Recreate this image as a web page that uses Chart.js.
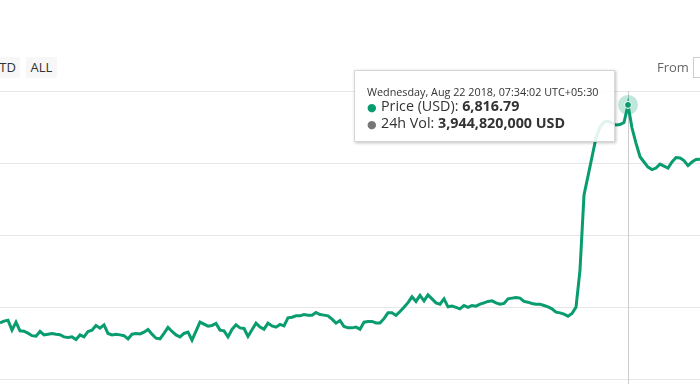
<!DOCTYPE html>
<html>
<head>
<meta charset="utf-8">
<script src="https://cdn.jsdelivr.net/npm/chart.js@4/dist/chart.umd.min.js"></script>
<style>
  html, body { margin: 0; padding: 0; background: #fff; }
  body { width: 700px; height: 384px; position: relative; overflow: hidden; font-family: "Open Sans", "DejaVu Sans", sans-serif; color: #333; }
  #chart { position: absolute; left: 0; top: 0; }
  .btn { position: absolute; top: 57px; height: 21px; line-height: 21px; background: #f7f7f7; color: #333; font-size: 13px; border-radius: 2px; text-align: center; }
  #from { position: absolute; left: 657px; top: 58px; font-size: 13px; color: #666; line-height: 18px; }
  #fromBox { position: absolute; left: 693px; top: 57px; width: 60px; height: 19px; border: 1px solid #ccc; background: #fff; }
  #tip { position: absolute; left: 354px; top: 70px; width: 261px; height: 72px; box-sizing: border-box; padding: 14px 0 0 12px;
         background: rgba(255,255,255,0.88); border: 1px solid #d6d6d6; box-shadow: 1px 1px 3px rgba(0,0,0,0.25); white-space: nowrap; }
  #tip .head { font-size: 10.8px; line-height: 13px; }
  #tip .row { font-size: 14.3px; line-height: 16px; }
  #tip .dot { font-size: 11px; display: inline-block; width: 14px; }
</style>
</head>
<body>
<canvas id="chart" width="700" height="384"></canvas>
<div class="btn" style="left:-12px;width:32px;">YTD</div>
<div class="btn" style="left:26px;width:31px;">ALL</div>
<div id="from">From</div>
<div id="fromBox"></div>
<div id="tip">
  <div class="head" id="tipHead"></div>
  <div class="row"><span class="dot" style="color:#089c6f">&#9679;</span>Price (USD): <b id="tipPrice"></b></div>
  <div class="row"><span class="dot" style="color:#777">&#9679;</span>24h Vol: <b id="tipVol"></b></div>
</div>
<script>
// 5-minute points, Aug 21 18:29 -> Aug 22 09:04 (UTC+05:30)
const times = [
  '18:29','18:34','18:39','18:44','18:49','18:54','18:59',
  '19:04','19:09','19:14','19:19','19:24','19:29','19:34','19:39','19:44','19:49','19:54','19:59',
  '20:04','20:09','20:14','20:19','20:24','20:29','20:34','20:39','20:44','20:49','20:54','20:59',
  '21:04','21:09','21:14','21:19','21:24','21:29','21:34','21:39','21:44','21:49','21:54','21:59',
  '22:04','22:09','22:14','22:19','22:24','22:29','22:34','22:39','22:44','22:49','22:54','22:59',
  '23:04','23:09','23:14','23:19','23:24','23:29','23:34','23:39','23:44','23:49','23:54','23:59',
  '00:04','00:09','00:14','00:19','00:24','00:29','00:34','00:39','00:44','00:49','00:54','00:59',
  '01:04','01:09','01:14','01:19','01:24','01:29','01:34','01:39','01:44','01:49','01:54','01:59',
  '02:04','02:09','02:14','02:19','02:24','02:29','02:34','02:39','02:44','02:49','02:54','02:59',
  '03:04','03:09','03:14','03:19','03:24','03:29','03:34','03:39','03:44','03:49','03:54','03:59',
  '04:04','04:09','04:14','04:19','04:24','04:29','04:34','04:39','04:44','04:49','04:54','04:59',
  '05:04','05:09','05:14','05:19','05:24','05:29','05:34','05:39','05:44','05:49','05:54','05:59',
  '06:04','06:09','06:14','06:19','06:24','06:29','06:34','06:39','06:44','06:49','06:54','06:59',
  '07:04','07:09','07:14','07:19','07:24','07:29','07:34','07:39','07:44','07:49','07:54','07:59',
  '08:04','08:09','08:14','08:19','08:24','08:29','08:34','08:39','08:44','08:49','08:54','08:59',
  '09:04'
];

// Price (USD)
const prices = [
  6453.8, 6456.7, 6458.3, 6441.7, 6455.0, 6440.5, 6440.0, 6436.7, 6432.5, 6431.7,
  6439.5, 6433.8, 6435.0, 6436.2, 6435.0, 6434.2, 6430.5, 6429.5, 6430.5, 6426.2,
  6433.8, 6430.5, 6439.5, 6441.7, 6449.5, 6445.0, 6450.5, 6436.2, 6433.8, 6435.0,
  6433.8, 6432.5, 6427.2, 6435.0, 6436.2, 6435.3, 6438.3, 6442.8, 6435.0, 6428.3,
  6427.2, 6436.2, 6446.2, 6439.5, 6433.8, 6430.5, 6436.2, 6438.3, 6425.0, 6440.0,
  6455.0, 6451.7, 6448.3, 6449.5, 6452.8, 6441.7, 6440.5, 6430.5, 6442.8, 6450.5,
  6445.5, 6444.5, 6431.2, 6442.2, 6453.3, 6446.7, 6443.3, 6453.3, 6448.8, 6446.7,
  6451.2, 6448.8, 6462.2, 6463.3, 6465.5, 6465.5, 6467.8, 6466.7, 6466.7, 6471.2,
  6467.8, 6466.7, 6465.5, 6460.0, 6453.3, 6457.8, 6447.8, 6445.5, 6445.5, 6446.7,
  6443.3, 6455.0, 6456.2, 6456.2, 6453.8, 6453.8, 6460.8, 6470.5, 6470.5, 6466.2,
  6472.8, 6480.0, 6487.5, 6497.2, 6489.5, 6499.5, 6490.5, 6500.5, 6493.8, 6487.2,
  6485.0, 6493.8, 6480.5, 6481.7, 6479.5, 6477.2, 6482.8, 6479.5, 6482.8, 6481.7,
  6485.0, 6487.2, 6489.5, 6490.5, 6487.2, 6485.0, 6486.2, 6493.8, 6495.0, 6496.2,
  6495.0, 6489.5, 6488.3, 6486.2, 6485.0, 6485.0, 6482.8, 6480.5, 6477.2, 6471.7,
  6470.5, 6468.3, 6465.0, 6469.5, 6480.0, 6541.7, 6666.7, 6698.3, 6730.0, 6761.7,
  6780.0, 6788.3, 6790.0, 6786.7, 6783.3, 6784.2, 6787.5, 6816.79, 6778.3, 6753.3,
  6730.5, 6721.7, 6713.3, 6709.2, 6711.7, 6718.3, 6715.0, 6711.7, 6721.7, 6729.2,
  6728.3, 6724.2, 6715.8, 6721.7, 6725.8, 6726.2
];

// horizontal grid values
const yTicks = [6360, 6480, 6600, 6720, 6840];

const peakIndex = 157;
const peakDate = 'Wednesday, Aug 22 2018, 07:34:02 UTC+05:30';
const peakVolume = 3944820000;

const lineColor = '#089c6f';
const haloColor = 'rgba(8, 156, 111, 0.25)';
const gridColor = '#e6e6e6';

// crosshair + hover halo on the highlighted point
const peakMarker = {
  id: 'peakMarker',
  beforeDatasetsDraw(chart) {
    const pt = chart.getDatasetMeta(0).data[peakIndex];
    const ctx = chart.ctx;
    const x = Math.round(pt.x) + 0.5;
    ctx.save();
    ctx.strokeStyle = '#cccccc';
    ctx.lineWidth = 1;
    ctx.beginPath();
    ctx.moveTo(x, chart.chartArea.top);
    ctx.lineTo(x, chart.chartArea.bottom);
    ctx.stroke();
    ctx.restore();
  },
  afterDatasetsDraw(chart) {
    const pt = chart.getDatasetMeta(0).data[peakIndex];
    const ctx = chart.ctx;
    ctx.save();
    ctx.fillStyle = haloColor;
    ctx.beginPath();
    ctx.arc(pt.x, pt.y, 10, 0, Math.PI * 2);
    ctx.fill();
    ctx.fillStyle = lineColor;
    ctx.strokeStyle = '#ffffff';
    ctx.lineWidth = 1;
    ctx.beginPath();
    ctx.arc(pt.x, pt.y, 3.5, 0, Math.PI * 2);
    ctx.fill();
    ctx.stroke();
    ctx.restore();
  }
};

new Chart(document.getElementById('chart'), {
  type: 'line',
  data: {
    labels: times,
    datasets: [{
      label: 'Price (USD)',
      data: prices,
      borderColor: lineColor,
      borderWidth: 3,
      pointRadius: 0,
      tension: 0,
      fill: false
    }]
  },
  options: {
    responsive: false,
    animation: false,
    devicePixelRatio: 1,
    layout: { padding: { top: 91, left: 0, right: 0, bottom: 0 } },
    plugins: { legend: { display: false }, tooltip: { enabled: false } },
    events: [],
    scales: {
      x: { display: false, offset: false },
      y: {
        min: 6352,
        max: 6840,
        afterBuildTicks: s => { s.ticks = yTicks.map(v => ({ value: v })); },
        afterFit: s => { s.width = 0; },
        ticks: { display: false },
        border: { display: false },
        grid: { color: gridColor, lineWidth: 1, drawTicks: false }
      }
    }
  },
  plugins: [peakMarker]
});

document.getElementById('tipHead').textContent = peakDate;
document.getElementById('tipPrice').textContent = prices[peakIndex].toLocaleString('en-US', { minimumFractionDigits: 2 });
document.getElementById('tipVol').textContent = peakVolume.toLocaleString('en-US') + ' USD';
</script>
</body>
</html>
